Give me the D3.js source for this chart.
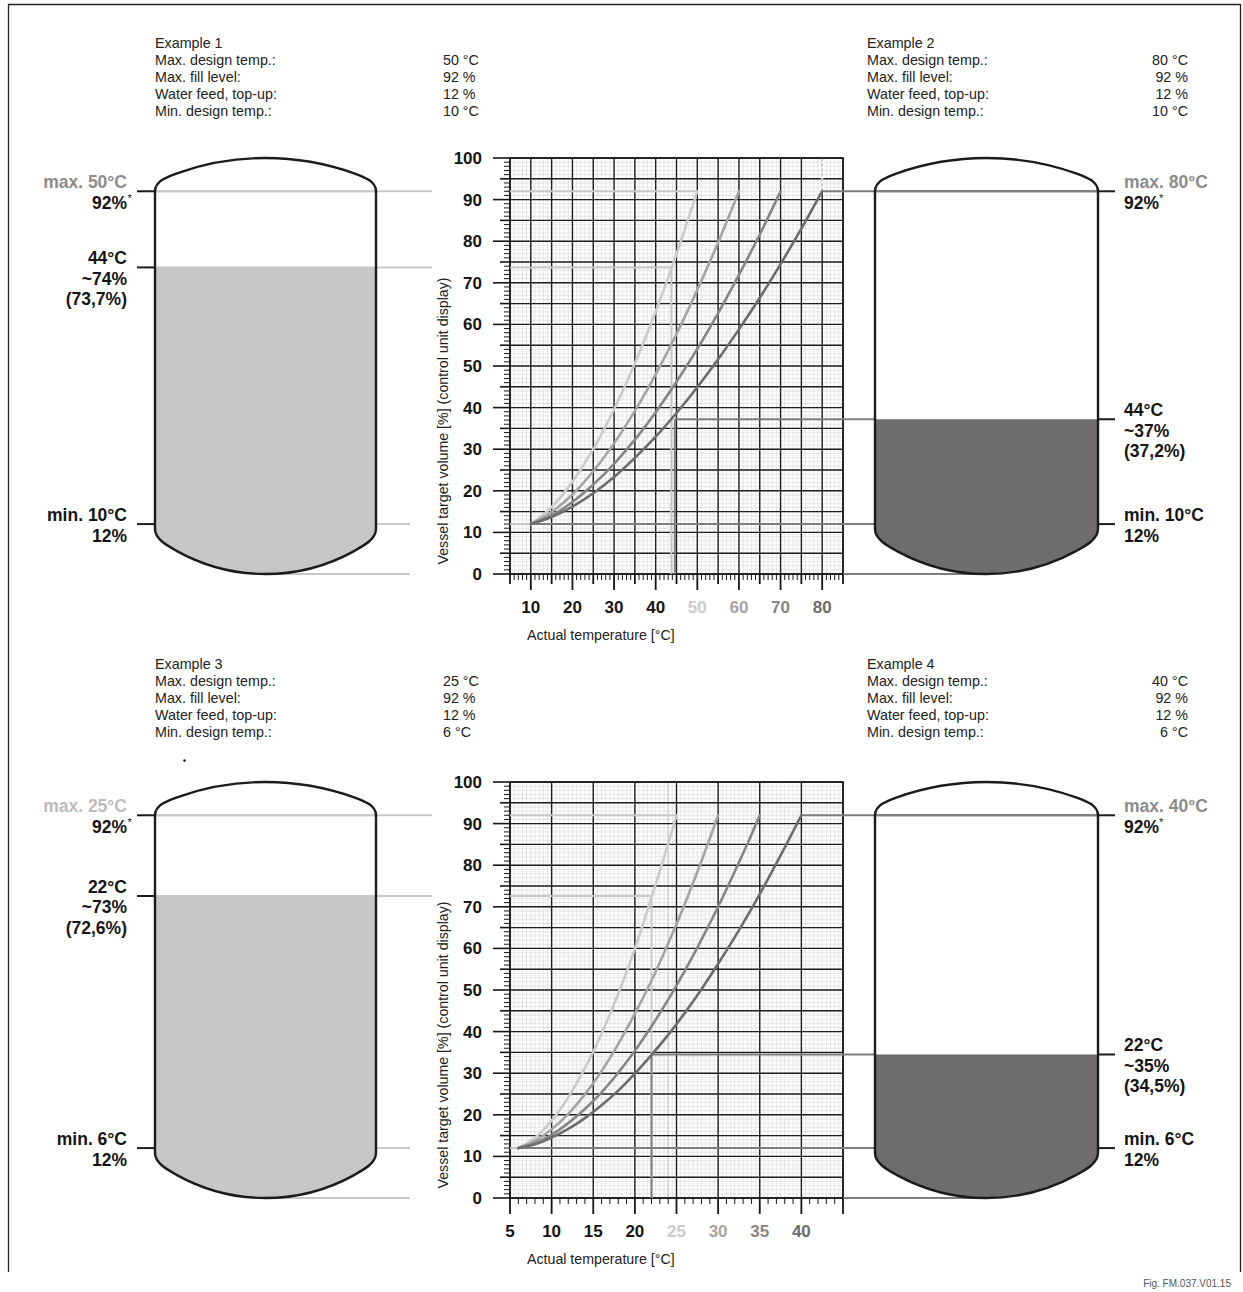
<!DOCTYPE html>
<html>
<head>
<meta charset="utf-8">
<script src="https://cdn.jsdelivr.net/npm/d3@7/dist/d3.min.js"></script>
<style>
  body { margin: 0; background: #fff; }
  svg { display: block; }
  text { font-family: "Liberation Sans", Arial, Helvetica, sans-serif; }
</style>
</head>
<body>
<script>
// ---- data ----
const infoLabels = ["Max. design temp.:", "Max. fill level:", "Water feed, top-up:", "Min. design temp.:"];
const exampleTitles = ["Example 1", "Example 2", "Example 3", "Example 4"];
const exampleValues = [
    ["50 °C", "92 %", "12 %", "10 °C"],
    ["80 °C", "92 %", "12 %", "10 °C"],
    ["25 °C", "92 %", "12 %", "6 °C"],
    ["40 °C", "92 %", "12 %", "6 °C"]
];
const maxTemps = [50, 80, 25, 40];
const minTemps = [10, 10, 6, 6];
const actualTemps = [44, 44, 22, 22];
const actualLevels = [73.7, 37.2, 72.6, 34.5];
const levelTexts = [
    ["44°C", "~74%", "(73,7%)"],
    ["44°C", "~37%", "(37,2%)"],
    ["22°C", "~73%", "(72,6%)"],
    ["22°C", "~35%", "(34,5%)"]
];
const maxFill = 92;
const minFill = 12;

// upper chart: curves start at 10 °C, values every 5 °C up to (max temp, 92 %)
const topTemps = [10, 15, 20, 25, 30, 35, 40, 45, 50, 55, 60, 65, 70, 75];
const topCurveMax = [50, 60, 70, 80];
const topCurve50 = [12, 16.1, 22.2, 30.0, 39.6, 50.6, 63.1, 76.9];
const topCurve60 = [12, 14.9, 19.1, 24.7, 31.4, 39.2, 48.0, 57.7, 68.3, 79.7];
const topCurve70 = [12, 14.1, 17.3, 21.5, 26.5, 32.3, 38.9, 46.2, 54.1, 62.7, 71.9, 81.6];
const topCurve80 = [12, 13.7, 16.2, 19.4, 23.3, 27.9, 33.0, 38.7, 44.9, 51.6, 58.8, 66.4, 74.5, 83.0];

// lower chart: curves start at 6 °C, values every 2 °C up to (max temp, 92 %)
const bottomTemps = [6, 8, 10, 12, 14, 16, 18, 20, 22, 24, 26, 28, 30, 32, 34, 36, 38];
const bottomCurveMax = [25, 30, 35, 40];
const bottomCurve25 = [12, 14.5, 18.6, 24.2, 31.2, 39.5, 49.1, 59.9, 72.3, 85.2];
const bottomCurve30 = [12, 13.7, 16.5, 20.2, 24.9, 30.5, 37.0, 44.3, 52.3, 61.2, 70.7, 81.0];
const bottomCurve35 = [12, 13.2, 15.2, 18.0, 21.4, 25.4, 30.1, 35.4, 41.3, 47.7, 54.6, 62.1, 70.0, 78.5, 87.3];
const bottomCurve40 = [12, 12.9, 14.5, 16.6, 19.2, 22.3, 25.8, 29.9, 34.4, 39.2, 44.5, 50.2, 56.3, 62.7, 69.5, 76.7, 84.2];

const topTickTemps = [10, 20, 30, 40, 50, 60, 70, 80];
const bottomTickTemps = [5, 10, 15, 20, 25, 30, 35, 40];
const percentTicks = [0, 10, 20, 30, 40, 50, 60, 70, 80, 90, 100];

// faint extra verticals seen on the sheets: [temp, from %, to %]
const topFaintLine = [80, 92, 100];
const bottomFaintLine = [24, 0, 100];

// ---- drawing ----
const W = 1243, H = 1292;
const curveColors = ["#cbcbcb", "#a4a4a4", "#868686", "#6c6c6c"];
const lightRef = "#c8c8c8", darkRef = "#7d7d7d";
const ink = "#151515";
const FONT_LBL = "17.5px";

const svg = d3.select("body").append("svg")
    .attr("width", W)
    .attr("height", H);

// outer frame (open at the bottom)
svg.append("path")
    .attr("d", "M8.5,1272 L8.5,4.5 L1240.5,4.5 L1240.5,1272")
    .attr("fill", "none")
    .attr("stroke", "#222")
    .attr("stroke-width", 1.3);

svg.append("text")
    .attr("x", 1231).attr("y", 1287)
    .attr("text-anchor", "end")
    .attr("font-size", "10px")
    .attr("fill", "#555")
    .text("Fig. FM.037.V01.15");

// stray dot in example 3
svg.append("circle").attr("cx", 184.5).attr("cy", 760.5).attr("r", 1.3).attr("fill", ink);

const panels = [
    {
        top: 0, yRange: [574, 158], xDomain: [5, 85], minorStep: 1,
        temps: topTemps, curves: [topCurve50, topCurve60, topCurve70, topCurve80], curveMax: topCurveMax,
        ticks: topTickTemps, labelStep: 10, ex: [0, 1], drop: [-1, 2.5], faint: topFaintLine, faintDash: true
    },
    {
        top: 621, yRange: [1198, 782], xDomain: [5, 45], minorStep: 0.5,
        temps: bottomTemps, curves: [bottomCurve25, bottomCurve30, bottomCurve35, bottomCurve40], curveMax: bottomCurveMax,
        ticks: bottomTickTemps, labelStep: 5, ex: [2, 3], drop: [0, 0], faint: bottomFaintLine, faintDash: false
    }
];

const PX0 = 510, PX1 = 843;
const vesselL = { x0: 155, x1: 376 };
const vesselR = { x0: 875, x1: 1098 };

function vesselPath(x0, x1, y) {
    const k = 22, h = 18, hb = 22;
    const yTop = y(maxFill), yPeak = y(100);
    const yBot = y(minFill) + 5, yBottom = y(0);
    const half = (x1 - x0) / 2 - k;
    const sagT = (yTop - h) - yPeak;
    const RT = (half * half + sagT * sagT) / (2 * sagT);
    const sT = half / (RT - sagT);
    const sagB = yBottom - (yBot + hb);
    const RB = (half * half + sagB * sagB) / (2 * sagB);
    const sB = half / (RB - sagB);
    return [
        `M${x0},${yBot}`, `L${x0},${yTop}`,
        `C${x0},${yTop - 10} ${x0 + k - 10},${yTop - h + 10 * sT} ${x0 + k},${yTop - h}`,
        `A${RT},${RT} 0 0 1 ${x1 - k},${yTop - h}`,
        `C${x1 - k + 10},${yTop - h + 10 * sT} ${x1},${yTop - 10} ${x1},${yTop}`,
        `L${x1},${yBot}`,
        `C${x1},${yBot + 10} ${x1 - k + 10},${yBot + hb - 10 * sB} ${x1 - k},${yBot + hb}`,
        `A${RB},${RB} 0 0 1 ${x0 + k},${yBot + hb}`,
        `C${x0 + k - 10},${yBot + hb - 10 * sB} ${x0},${yBot + 10} ${x0},${yBot}`, "Z"
    ].join(" ");
}

function hline(g, x0, x1, yv, color, w) {
    g.append("line").attr("x1", x0).attr("x2", x1).attr("y1", yv).attr("y2", yv)
        .attr("stroke", color).attr("stroke-width", w || 2);
}
function vline(g, xv, y0, y1, color, w) {
    g.append("line").attr("x1", xv).attr("x2", xv).attr("y1", y0).attr("y2", y1)
        .attr("stroke", color).attr("stroke-width", w || 2);
}

panels.forEach((p, pi) => {
    const g = svg.append("g");
    const x = d3.scaleLinear().domain(p.xDomain).range([PX0, PX1]);
    const y = d3.scaleLinear().domain([0, 100]).range(p.yRange);
    const [exL, exR] = p.ex;

    // info blocks
    [exL, exR].forEach((ei, side) => {
        const bx = side === 0 ? 155 : 867;
        const vx = side === 0 ? 443 : 1188;
        const by = 48 + p.top;
        g.append("text").attr("x", bx).attr("y", by).attr("font-size", "14.3px").attr("fill", "#222")
            .text(exampleTitles[ei]);
        infoLabels.forEach((lbl, li) => {
            g.append("text").attr("x", bx).attr("y", by + 17 * (li + 1))
                .attr("font-size", "14.3px").attr("fill", "#222").text(lbl);
            g.append("text").attr("x", vx).attr("y", by + 17 * (li + 1))
                .attr("text-anchor", side === 0 ? "start" : "end")
                .attr("font-size", "14.3px").attr("fill", "#222").text(exampleValues[ei][li]);
        });
    });

    // minor grid
    const minorX = d3.range(p.xDomain[0], p.xDomain[1] + 0.001, p.minorStep);
    const minorY = d3.range(0, 101, 1);
    g.append("g").selectAll("line").data(minorX).join("line")
        .attr("x1", d => x(d)).attr("x2", d => x(d))
        .attr("y1", y(0)).attr("y2", y(100))
        .attr("stroke", "#dedede").attr("stroke-width", 0.8);
    g.append("g").selectAll("line").data(minorY).join("line")
        .attr("x1", PX0).attr("x2", PX1)
        .attr("y1", d => y(d)).attr("y2", d => y(d))
        .attr("stroke", "#dedede").attr("stroke-width", 0.8);

    if (!p.faintDash) vline(g, x(p.faint[0]), y(p.faint[1]), y(p.faint[2]), "#d2d2d2", 1.6);

    // major grid every 5
    const majorX = d3.range(p.xDomain[0], p.xDomain[1] + 0.001, 5);
    const majorY = d3.range(0, 101, 5);
    g.append("g").selectAll("line").data(majorX).join("line")
        .attr("x1", d => x(d)).attr("x2", d => x(d))
        .attr("y1", y(0)).attr("y2", y(100))
        .attr("stroke", "#1e1e1e").attr("stroke-width", 1.4);
    g.append("g").selectAll("line").data(majorY).join("line")
        .attr("x1", PX0).attr("x2", PX1)
        .attr("y1", d => y(d)).attr("y2", d => y(d))
        .attr("stroke", "#1e1e1e").attr("stroke-width", 1.4);

    if (p.faintDash) {
        vline(g, x(p.faint[0]), y(p.faint[1]), y(p.faint[2]), "#fff", 2);
        g.append("line").attr("x1", x(p.faint[0])).attr("x2", x(p.faint[0]))
            .attr("y1", y(p.faint[1])).attr("y2", y(p.faint[2]))
            .attr("stroke", "#bdbdbd").attr("stroke-width", 1.4).attr("stroke-dasharray", "3,2");
    }

    // frame
    g.append("rect").attr("x", PX0).attr("y", y(100)).attr("width", PX1 - PX0).attr("height", y(0) - y(100))
        .attr("fill", "none").attr("stroke", "#1a1a1a").attr("stroke-width", 1.6);

    // reference lines, left example (light) and right example (dark)
    const vLcx = (vesselL.x0 + vesselL.x1) / 2, vRcx = (vesselR.x0 + vesselR.x1) / 2;
    hline(g, vesselL.x0, 432, y(maxFill), lightRef);
    hline(g, PX0, x(maxTemps[exL]), y(maxFill), lightRef);
    hline(g, vesselL.x0, 432, y(actualLevels[exL]), lightRef);
    hline(g, PX0, x(actualTemps[exL]) + p.drop[0], y(actualLevels[exL]), lightRef);
    vline(g, x(actualTemps[exL]) + p.drop[0], y(actualLevels[exL]), y(0), lightRef);
    hline(g, vesselL.x1, 410, y(minFill), lightRef);
    hline(g, PX0, x(minTemps[exL]), y(minFill), lightRef);
    hline(g, vLcx, 410, y(0), lightRef);

    hline(g, x(maxTemps[exR]), vesselR.x1, y(maxFill), darkRef);
    hline(g, x(actualTemps[exR]) + p.drop[1], vesselR.x0, y(actualLevels[exR]), darkRef);
    vline(g, x(actualTemps[exR]) + p.drop[1], y(actualLevels[exR]), y(0), darkRef);
    hline(g, x(minTemps[exR]), vesselR.x0, y(minFill), darkRef);
    hline(g, PX1, vRcx, y(0), darkRef);

    // curves
    const line = d3.line().x(d => x(d[0])).y(d => y(d[1])).curve(d3.curveMonotoneX);
    p.curves.forEach((vals, ci) => {
        const pts = vals.map((v, i) => [p.temps[i], v]);
        pts.push([p.curveMax[ci], maxFill]);
        g.append("path").datum(pts)
            .attr("d", line)
            .attr("fill", "none")
            .attr("stroke", curveColors[ci])
            .attr("stroke-width", 2.6)
            .attr("stroke-linecap", "round");
    });

    // y axis ticks and labels
    const yMinor = d3.range(0, 101, 1);
    g.append("g").selectAll("line").data(yMinor).join("line")
        .attr("x1", d => PX0 - (d % 10 === 0 ? 17 : d % 5 === 0 ? 10 : 6))
        .attr("x2", PX0)
        .attr("y1", d => y(d)).attr("y2", d => y(d))
        .attr("stroke", ink).attr("stroke-width", d => d % 5 === 0 ? 1.6 : 1);
    g.append("g").selectAll("text").data(percentTicks).join("text")
        .attr("x", 482).attr("y", d => y(d) + 6)
        .attr("text-anchor", "end")
        .attr("font-size", "17px").attr("font-weight", "bold").attr("fill", ink)
        .text(d => d);

    // x axis ticks and labels
    const xMinor = d3.range(p.xDomain[0], p.xDomain[1] + 0.001, 1);
    g.append("g").selectAll("line").data(xMinor).join("line")
        .attr("x1", d => x(d)).attr("x2", d => x(d))
        .attr("y1", y(0))
        .attr("y2", d => y(0) + (d % p.labelStep === 0 ? 16 : d % 5 === 0 ? 10 : 6))
        .attr("stroke", ink).attr("stroke-width", d => d % 5 === 0 ? 1.8 : 1);
    g.append("g").selectAll("text").data(p.ticks).join("text")
        .attr("x", d => x(d)).attr("y", y(0) + 39)
        .attr("text-anchor", "middle")
        .attr("font-size", "17px").attr("font-weight", "bold")
        .attr("fill", d => {
            const ci = p.curveMax.indexOf(d);
            return ci >= 0 ? curveColors[ci] : ink;
        })
        .text(d => d);

    // axis titles
    g.append("text")
        .attr("transform", `translate(448,${y(0) - 153}) rotate(-90)`)
        .attr("text-anchor", "middle")
        .attr("font-size", "14.2px").attr("fill", "#222")
        .text("Vessel target volume [%] (control unit display)");
    g.append("text")
        .attr("x", 527).attr("y", y(0) + 66)
        .attr("font-size", "14.2px").attr("fill", "#222")
        .text("Actual temperature [°C]");

    // vessels
    [[vesselL, exL, lightRef, "#c6c6c6"], [vesselR, exR, darkRef, "#6e6c6f"]].forEach(([v, ei, refc, fillc], side) => {
        const d = vesselPath(v.x0, v.x1, y);
        const clipId = `clip-${pi}-${side}`;
        g.append("clipPath").attr("id", clipId).append("path").attr("d", d);
        g.append("rect")
            .attr("x", v.x0 - 2).attr("width", v.x1 - v.x0 + 4)
            .attr("y", y(actualLevels[ei])).attr("height", y(0) - y(actualLevels[ei]) + 4)
            .attr("fill", fillc)
            .attr("clip-path", `url(#${clipId})`);
        // redraw lines that pass through the vessel interior
        if (side === 0) hline(g, v.x0, v.x1, y(maxFill), refc);
        else hline(g, v.x0, v.x1, y(maxFill), refc);
        g.append("path").attr("d", d)
            .attr("fill", "none").attr("stroke", "#1b1b1b").attr("stroke-width", 2.4);

        // black level markers
        const mx0 = side === 0 ? 137 : v.x1;
        const mx1 = side === 0 ? v.x0 : 1115;
        [maxFill, actualLevels[ei], minFill].forEach(lv => hline(g, mx0, mx1, y(lv), "#1b1b1b", 2));

        // labels
        const lx = side === 0 ? 127 : 1124;
        const anchor = side === 0 ? "end" : "start";
        const maxColor = ei === 2 ? "#bcbcbc" : "#8c8c8c";
        const lbl = (txt, yy, color) => g.append("text")
            .attr("x", lx).attr("y", yy)
            .attr("text-anchor", anchor)
            .attr("font-size", FONT_LBL).attr("font-weight", "bold")
            .attr("fill", color || ink).text(txt);

        lbl(`max. ${maxTemps[ei]}°C`, y(maxFill) - 3, maxColor);
        const t92 = lbl(`${maxFill}%`, y(maxFill) + 17.5);
        if (side === 0) {
            g.append("text").attr("x", lx + 0.5).attr("y", y(maxFill) + 11)
                .attr("font-size", "11px").attr("fill", ink).text("*");
        } else {
            t92.append("tspan").attr("dy", -6.5).attr("font-size", "11px").attr("font-weight", "normal").text("*");
        }
        levelTexts[ei].forEach((t, li) => lbl(t, y(actualLevels[ei]) - 3 + li * 20.5));
        lbl(`min. ${minTemps[ei]}°C`, y(minFill) - 3);
        lbl(`${minFill}%`, y(minFill) + 17.5);
    });
});
</script>
</body>
</html>
